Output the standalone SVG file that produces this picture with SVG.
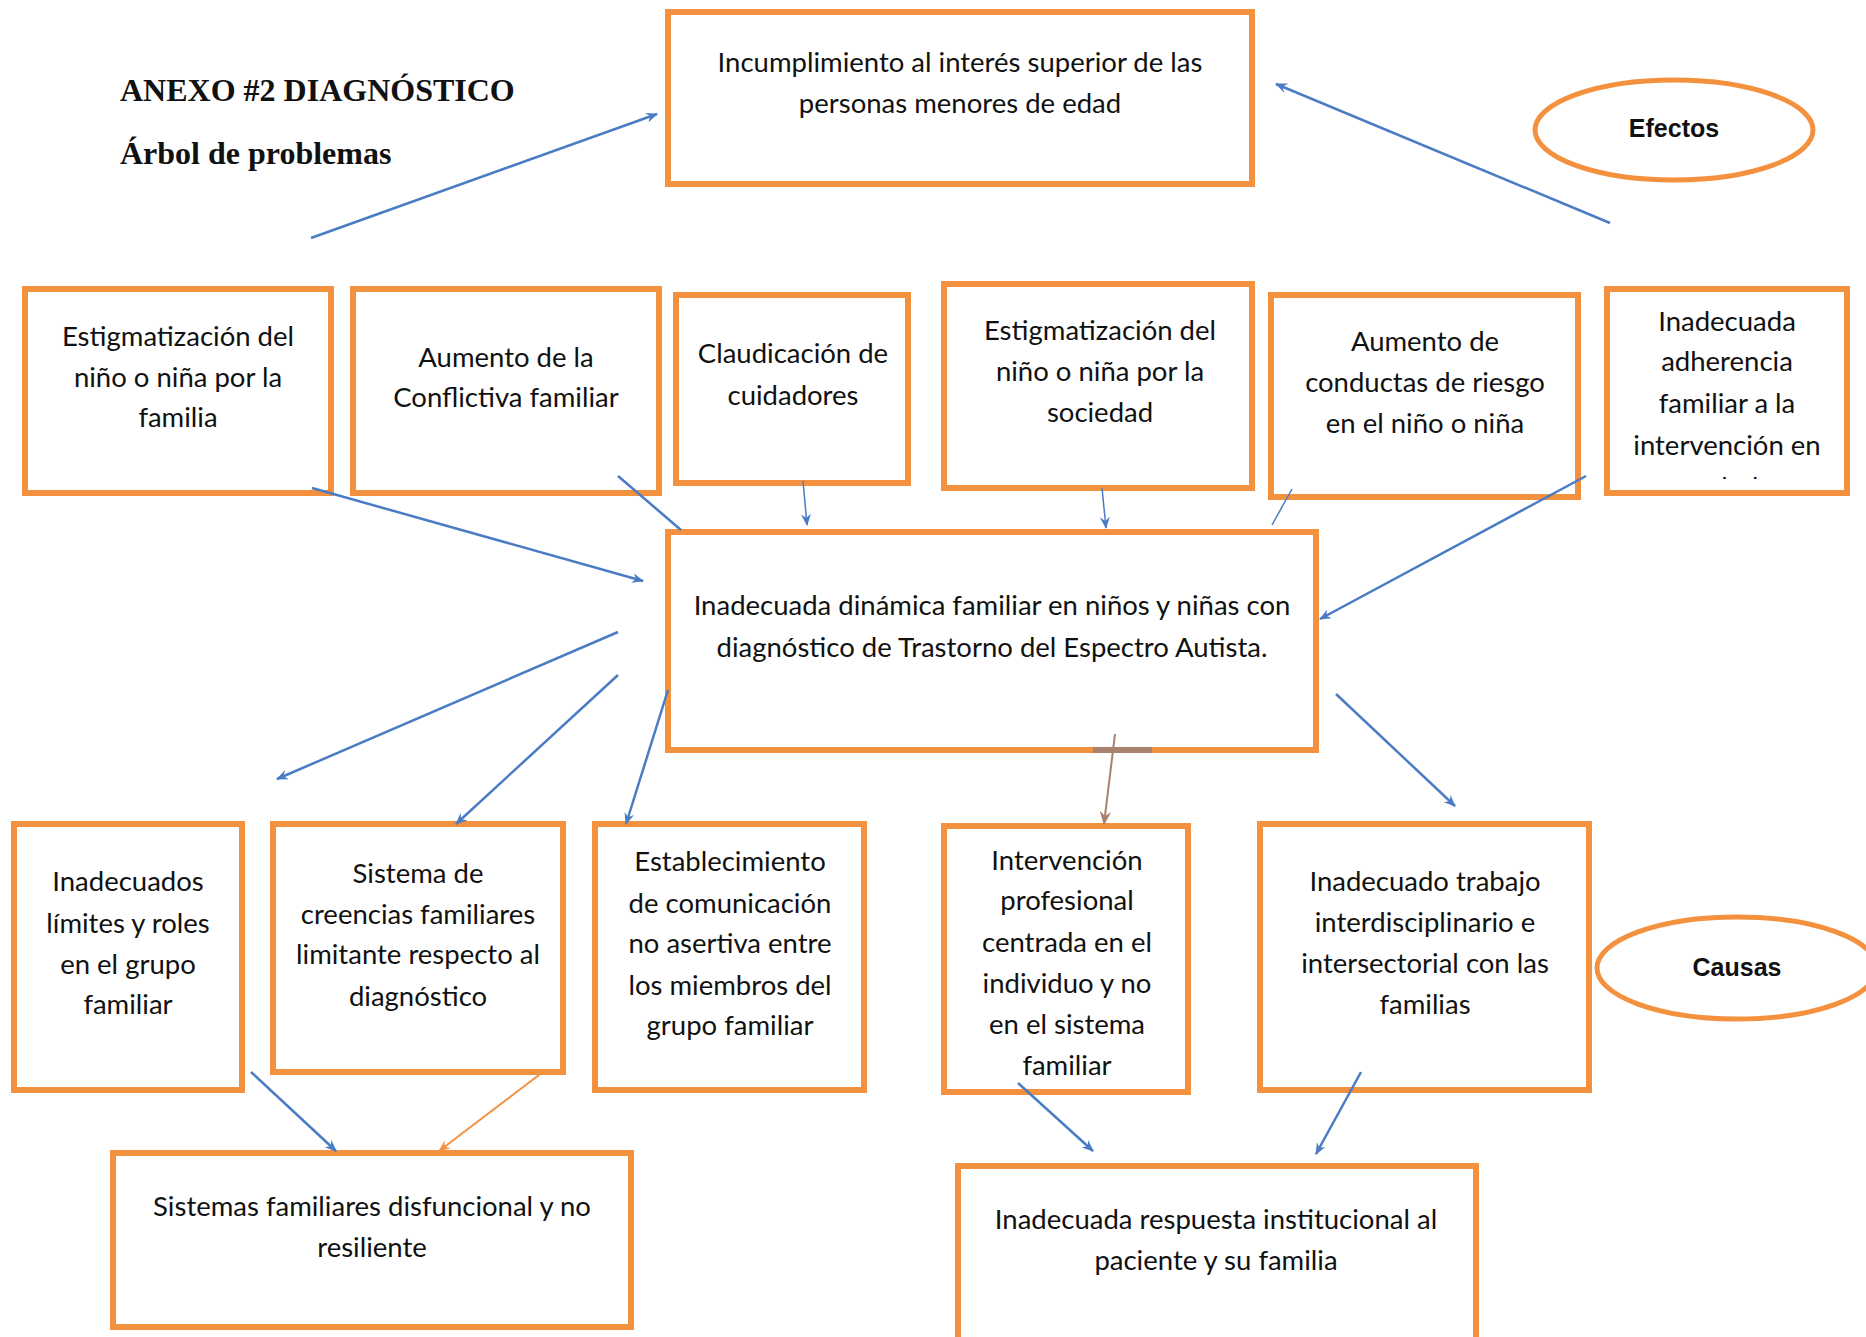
<svg xmlns="http://www.w3.org/2000/svg" width="1866" height="1337" viewBox="0 0 1866 1337">
<style>
.box{fill:#fff;stroke:#F4913F;stroke-width:6}
.ell{fill:#fff;stroke:#F4913F;stroke-width:5}
.t{font-family:Lato,"Liberation Sans",sans-serif;font-size:27.5px;fill:#111;text-anchor:middle}
.b{font-family:"Liberation Sans",sans-serif;font-weight:bold;font-size:25px;fill:#111;text-anchor:middle}
.title{font-family:"Liberation Serif",serif;font-weight:bold;font-size:32px;fill:#111}
.c{fill:none;stroke:#4A7CC4;stroke-width:2.5}
.thin{stroke-width:1.5}
</style>
<defs>
<marker id="ab" viewBox="0 0 12 10" refX="11" refY="5" markerWidth="12" markerHeight="10" markerUnits="userSpaceOnUse" orient="auto">
<path d="M0,0 L12,5 L0,10 L4,5 z" fill="#4A7CC4"/>
</marker>
<marker id="ao" viewBox="0 0 12 10" refX="11" refY="5" markerWidth="12" markerHeight="10" markerUnits="userSpaceOnUse" orient="auto">
<path d="M0,0 L12,5 L0,10 L4,5 z" fill="#F4913F"/>
</marker>
<marker id="ar" viewBox="0 0 12 10" refX="11" refY="5" markerWidth="14" markerHeight="12" markerUnits="userSpaceOnUse" orient="auto">
<path d="M0,0 L12,5 L0,10 L4,5 z" fill="#A8826E"/>
</marker>
<clipPath id="clip6"><rect x="1607" y="289" width="240" height="190"/></clipPath>
</defs>
<rect width="1866" height="1337" fill="#fff"/>

<g id="title">
<text class="title" x="120" y="101">ANEXO #2 DIAGNÓSTICO</text>
<text class="title" x="120" y="164">Árbol de problemas</text>
</g>

<g id="efecto-principal">
<rect class="box" x="668" y="12" width="584" height="172"/>
<text class="t" x="960" y="72">Incumplimiento al interés superior de las</text>
<text class="t" x="960" y="113">personas menores de edad</text>
</g>

<g id="efectos">
<ellipse class="ell" cx="1674" cy="130" rx="139" ry="50"/>
<text class="b" x="1674" y="137">Efectos</text>
</g>

<g id="e1">
<rect class="box" x="25" y="289" width="306" height="204"/>
<text class="t" x="178" y="346">Estigmatización del</text>
<text class="t" x="178" y="387">niño o niña por la</text>
<text class="t" x="178" y="427">familia</text>
</g>
<g id="e2">
<rect class="box" x="353" y="289" width="306" height="204"/>
<text class="t" x="506" y="367">Aumento de la</text>
<text class="t" x="506" y="407">Conflictiva familiar</text>
</g>
<g id="e3">
<rect class="box" x="676" y="295" width="232" height="188"/>
<text class="t" x="793" y="363">Claudicación de</text>
<text class="t" x="793" y="405">cuidadores</text>
</g>
<g id="e4">
<rect class="box" x="944" y="284" width="308" height="204"/>
<text class="t" x="1100" y="340">Estigmatización del</text>
<text class="t" x="1100" y="381">niño o niña por la</text>
<text class="t" x="1100" y="422">sociedad</text>
</g>
<g id="e5">
<rect class="box" x="1271" y="295" width="307" height="202"/>
<text class="t" x="1425" y="351">Aumento de</text>
<text class="t" x="1425" y="392">conductas de riesgo</text>
<text class="t" x="1425" y="433">en el niño o niña</text>
</g>
<g id="e6">
<rect class="box" x="1607" y="289" width="240" height="204"/>
<text class="t" x="1727" y="331">Inadecuada</text>
<text class="t" x="1727" y="371">adherencia</text>
<text class="t" x="1727" y="413">familiar a la</text>
<text class="t" x="1727" y="455">intervención en</text>
<text class="t" x="1727" y="497" clip-path="url(#clip6)">salud</text>
</g>

<g id="problema-central">
<rect class="box" x="668" y="532" width="648" height="218"/>
<text class="t" x="992" y="615">Inadecuada dinámica familiar en niños y niñas con</text>
<text class="t" x="992" y="657">diagnóstico de Trastorno del Espectro Autista.</text>
</g>

<g id="c1">
<rect class="box" x="14" y="824" width="228" height="266"/>
<text class="t" x="128" y="891">Inadecuados</text>
<text class="t" x="128" y="933">límites y roles</text>
<text class="t" x="128" y="974">en el grupo</text>
<text class="t" x="128" y="1014">familiar</text>
</g>
<g id="c2">
<rect class="box" x="273" y="824" width="290" height="248"/>
<text class="t" x="418" y="883">Sistema de</text>
<text class="t" x="418" y="924">creencias familiares</text>
<text class="t" x="418" y="964">limitante respecto al</text>
<text class="t" x="418" y="1006">diagnóstico</text>
</g>
<g id="c3">
<rect class="box" x="595" y="824" width="269" height="266"/>
<text class="t" x="730" y="871">Establecimiento</text>
<text class="t" x="730" y="913">de comunicación</text>
<text class="t" x="730" y="953">no asertiva entre</text>
<text class="t" x="730" y="995">los miembros del</text>
<text class="t" x="730" y="1035">grupo familiar</text>
</g>
<g id="c4">
<rect class="box" x="944" y="826" width="244" height="266"/>
<text class="t" x="1067" y="870">Intervención</text>
<text class="t" x="1067" y="910">profesional</text>
<text class="t" x="1067" y="952">centrada en el</text>
<text class="t" x="1067" y="993">individuo y no</text>
<text class="t" x="1067" y="1034">en el sistema</text>
<text class="t" x="1067" y="1075">familiar</text>
</g>
<g id="c5">
<rect class="box" x="1260" y="824" width="329" height="266"/>
<text class="t" x="1425" y="891">Inadecuado trabajo</text>
<text class="t" x="1425" y="932">interdisciplinario e</text>
<text class="t" x="1425" y="973">intersectorial con las</text>
<text class="t" x="1425" y="1014">familias</text>
</g>

<g id="causas">
<ellipse class="ell" cx="1737" cy="968" rx="140" ry="51"/>
<text class="b" x="1737" y="976">Causas</text>
</g>

<g id="d1">
<rect class="box" x="113" y="1153" width="518" height="174"/>
<text class="t" x="372" y="1216">Sistemas familiares disfuncional y no</text>
<text class="t" x="372" y="1257">resiliente</text>
</g>
<g id="d2">
<rect class="box" x="958" y="1166" width="518" height="180"/>
<text class="t" x="1216" y="1229">Inadecuada respuesta institucional al</text>
<text class="t" x="1216" y="1270">paciente y su familia</text>
</g>

<g id="connectors">
<line class="c" x1="311" y1="238" x2="657" y2="114" marker-end="url(#ab)"/>
<line class="c" x1="1610" y1="223" x2="1276" y2="84" marker-end="url(#ab)"/>
<line class="c" x1="312" y1="488" x2="643" y2="581" marker-end="url(#ab)"/>
<line class="c" x1="618" y1="476" x2="681" y2="530"/>
<line class="c thin" x1="803" y1="481" x2="807" y2="525" marker-end="url(#ab)"/>
<line class="c thin" x1="1102" y1="488" x2="1106" y2="528" marker-end="url(#ab)"/>
<line class="c thin" x1="1292" y1="489" x2="1272" y2="525"/>
<line class="c" x1="1586" y1="476" x2="1320" y2="619" marker-end="url(#ab)"/>
<line class="c" x1="618" y1="632" x2="277" y2="779" marker-end="url(#ab)"/>
<line class="c" x1="618" y1="675" x2="456" y2="824" marker-end="url(#ab)"/>
<line class="c" x1="668" y1="690" x2="626" y2="824" marker-end="url(#ab)"/>
<line x1="1093" y1="750" x2="1152" y2="750" stroke="#A8826E" stroke-width="6"/>
<line x1="1115" y1="734" x2="1104" y2="824" stroke="#A8826E" stroke-width="2" marker-end="url(#ar)"/>
<line class="c" x1="1336" y1="694" x2="1455" y2="806" marker-end="url(#ab)"/>
<line class="c" x1="251" y1="1072" x2="336" y2="1151" marker-end="url(#ab)"/>
<line x1="539" y1="1075" x2="439" y2="1151" stroke="#F4913F" stroke-width="2" marker-end="url(#ao)"/>
<line class="c" x1="1018" y1="1083" x2="1093" y2="1151" marker-end="url(#ab)"/>
<line class="c" x1="1361" y1="1072" x2="1316" y2="1154" marker-end="url(#ab)"/>
</g>
</svg>
